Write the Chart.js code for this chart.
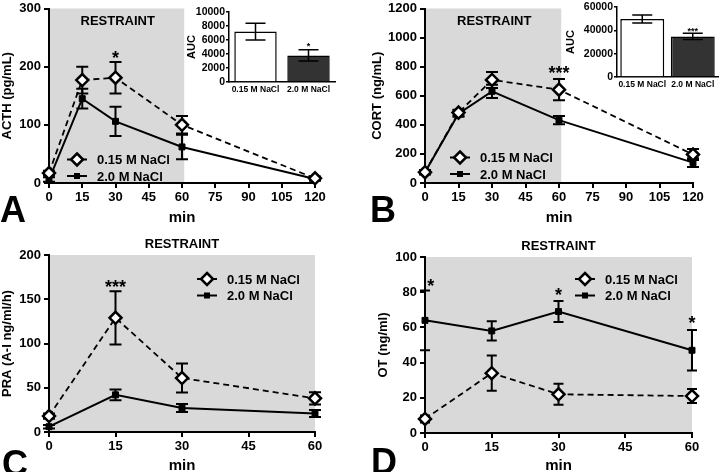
<!DOCTYPE html>
<html>
<head>
<meta charset="utf-8">
<title>Restraint hormones</title>
<script src="https://cdn.jsdelivr.net/npm/chart.js@4.4.1/dist/chart.umd.min.js"></script>
<style>
  body { margin: 0; background: #fff; }
  #fig { position: relative; width: 720px; height: 472px; overflow: hidden; background: #fff;
         font-family: 'Liberation Sans', Arial, Helvetica, sans-serif; }
  #fig canvas { position: absolute; }
  .letter { position: absolute; font-weight: bold; font-size: 36px; line-height: 1; color: #000; }
</style>
</head>
<body>
<div id="fig">
  <canvas id="chartA" width="360" height="236" style="left:0;top:0"></canvas>
  <canvas id="chartB" width="360" height="236" style="left:360px;top:0"></canvas>
  <canvas id="chartC" width="360" height="242" style="left:0;top:236px"></canvas>
  <canvas id="chartD" width="360" height="242" style="left:360px;top:236px"></canvas>
  <canvas id="insetA" width="165" height="100" style="left:180px;top:0"></canvas>
  <canvas id="insetB" width="180" height="95" style="left:540px;top:0"></canvas>
  <div class="letter" style="left:0;top:192px">A</div>
  <div class="letter" style="left:370px;top:192px">B</div>
  <div class="letter" style="left:2px;top:446px">C</div>
  <div class="letter" style="left:371px;top:444px">D</div>
</div>
<script>
// ---- data ----
const groups = ['0.15 M NaCl', '2.0 M NaCl'];
const timesAB = [0, 15, 30, 60, 120];
const timesCD = [0, 15, 30, 60];

// A: ACTH (pg/mL)
const acthLow = [17, 177, 181, 100, 8];
const acthLowErr = [4, 23, 27, 15, 3];
const acthHigh = [6, 145, 106, 62, 7];
const acthHighErr = [4, 17, 25, 21, 3];
const acthTicks = [0, 100, 200, 300];

// B: CORT (ng/mL)
const cortLow = [74, 484, 709, 642, 196];
const cortLowErr = [15, 20, 55, 73, 38];
const cortHigh = [74, 477, 630, 432, 140];
const cortHighErr = [12, 22, 45, 28, 30];
const cortTicks = [0, 200, 400, 600, 800, 1000, 1200];

// C: PRA (A-I ng/ml/h)
const praLow = [18, 129, 61, 38];
const praLowErr = [3, 30, 16.5, 7];
const praHigh = [6, 42, 27, 21];
const praHighErr = [2, 6, 4.5, 4];
const praTicks = [0, 50, 100, 150, 200];

// D: OT (ng/ml)
const otLow = [8, 34, 22, 21];
const otLowErr = [2, 10, 6, 4];
const otHigh = [64, 58, 69, 47];
const otHighErr = [17, 5.5, 6, 11.5];
const otTicks = [0, 20, 40, 60, 80, 100];

// insets: area under curve
const aucActh = [7200, 3800];
const aucActhErr = [1200, 800];
const aucActhTicks = [0, 2000, 4000, 6000, 8000, 10000];
const aucCort = [49700, 34800];
const aucCortErr = [3400, 2600];
const aucCortTicks = [0, 20000, 40000, 60000];

// significance marks (x in min, y in axis units)
const starsA = [{ x: 30, y: 222, t: '*' }];
const starsB = [{ x: 60, y: 786, t: '***' }];
const starsC = [{ x: 15, y: 168, t: '***' }];
const starsD = [{ x: 1.3, y: 86, t: '*' }, { x: 30, y: 80.5, t: '*' }, { x: 60, y: 64.5, t: '*' }];
const starsInsetA = [null, 5400];
const starsInsetB = [null, 40800];

// ---- drawing ----
const FONT = "'Liberation Sans', Arial, Helvetica, sans-serif";
const SHADE = '#d9d9d9';
Chart.defaults.font.family = FONT;
Chart.defaults.color = '#000';

const plain = v => String(v);   // no thousands separators

function drawMarker(ctx, kind, x, y) {
  ctx.save();
  ctx.setLineDash([]);
  if (kind === 'diamond') {
    const r = 6;
    ctx.beginPath();
    ctx.moveTo(x, y - r); ctx.lineTo(x + r, y); ctx.lineTo(x, y + r); ctx.lineTo(x - r, y);
    ctx.closePath();
    ctx.fillStyle = '#fff'; ctx.fill();
    ctx.lineWidth = 2.5; ctx.strokeStyle = '#000'; ctx.stroke();
  } else {
    ctx.fillStyle = '#000';
    ctx.fillRect(x - 3, y - 3, 6, 6);
  }
  ctx.restore();
}

function drawErr(ctx, x, yTop, yBot, cap) {
  ctx.beginPath();
  ctx.moveTo(x, yTop); ctx.lineTo(x, yBot);
  ctx.moveTo(x - cap, yTop); ctx.lineTo(x + cap, yTop);
  ctx.moveTo(x - cap, yBot); ctx.lineTo(x + cap, yBot);
  ctx.stroke();
}

function drawStar(ctx, text, x, yc, size) {
  ctx.save();
  ctx.font = 'bold ' + size + 'px ' + FONT;
  ctx.fillStyle = '#000';
  ctx.textAlign = 'center';
  ctx.textBaseline = 'alphabetic';
  ctx.fillText(text, x, yc + size * 0.55);
  ctx.restore();
}

function panelPlugin(p) {
  return {
    id: 'panel',
    beforeDraw(chart) {
      const { ctx, chartArea: a, scales: { x } } = chart;
      ctx.save();
      ctx.fillStyle = SHADE;
      ctx.fillRect(a.left, a.top, x.getPixelForValue(p.shadeTo) - a.left, a.bottom - a.top);
      ctx.restore();
    },
    beforeDatasetsDraw(chart) {
      const { ctx, scales: { x, y } } = chart;
      ctx.save();
      ctx.strokeStyle = '#000';
      ctx.lineWidth = 2;
      p.series.forEach(s => {
        s.vals.forEach((v, i) => {
          const px = x.getPixelForValue(p.times[i]);
          drawErr(ctx, px, y.getPixelForValue(v + s.errs[i]), y.getPixelForValue(v - s.errs[i]), p.cap);
        });
      });
      ctx.restore();
    },
    afterDraw(chart) {
      const { ctx, chartArea: a, scales: { x, y } } = chart;
      ctx.save();
      ctx.fillStyle = '#000';
      ctx.font = 'bold 13px ' + FONT;
      ctx.textAlign = 'center';
      ctx.textBaseline = 'middle';
      if (p.restraintInside) {
        ctx.fillText('RESTRAINT', x.getPixelForValue(p.shadeTo / 2 + 0.5), a.top + 13);
      } else {
        ctx.fillText('RESTRAINT', (a.left + a.right) / 2, a.top - 11);
      }
      p.stars.forEach(s => drawStar(ctx, s.t, x.getPixelForValue(s.x), y.getPixelForValue(s.y), 18));

      // legend
      const lx = a.left + p.legend[0], ly = a.top + p.legend[1];
      ['diamond', 'square'].forEach((kind, k) => {
        const yy = ly + k * 16.5;
        ctx.save();
        ctx.strokeStyle = '#000';
        ctx.lineWidth = 2;
        ctx.setLineDash(kind === 'diamond' ? [4, 4] : []);
        ctx.beginPath(); ctx.moveTo(lx, yy); ctx.lineTo(lx + 20, yy); ctx.stroke();
        ctx.restore();
        drawMarker(ctx, kind, lx + 10, yy);
        ctx.textAlign = 'left';
        ctx.font = 'bold 13px ' + FONT;
        ctx.fillText(groups[k], lx + 30, yy + 1);
      });
      ctx.restore();
    }
  };
}

function lineSet(label, times, vals, dashed) {
  return {
    label,
    data: times.map((t, i) => ({ x: t, y: vals[i] })),
    borderColor: '#000',
    borderWidth: dashed ? 1.8 : 2,
    borderDash: dashed ? [6, 4] : [],
    pointStyle: dashed ? 'rectRot' : 'rect',
    pointRadius: dashed ? 6 : 4.2,
    pointBackgroundColor: dashed ? '#fff' : '#000',
    pointBorderColor: '#000',
    pointBorderWidth: dashed ? 2.5 : 1,
    tension: 0,
    fill: false,
    clip: false
  };
}

function makeLinePanel(p) {
  const H = p.height;
  new Chart(document.getElementById(p.id), {
    type: 'line',
    data: {
      datasets: [
        lineSet(groups[0], p.times, p.series[0].vals, true),
        lineSet(groups[1], p.times, p.series[1].vals, false)
      ]
    },
    options: {
      responsive: false,
      animation: false,
      events: [],
      layout: { padding: { left: 0, top: p.area.t, right: p.width - p.area.r, bottom: 0 } },
      plugins: { legend: { display: false }, tooltip: { enabled: false } },
      scales: {
        x: {
          type: 'linear', min: 0, max: p.times[p.times.length - 1],
          afterBuildTicks: s => { s.ticks = p.xTicks.map(v => ({ value: v })); },
          ticks: { callback: plain, color: '#000', font: { size: 13, weight: 'bold' }, padding: 2, maxRotation: 0, autoSkip: false },
          grid: { display: true, drawOnChartArea: false, drawTicks: true, tickLength: 5, color: '#000', lineWidth: 2 },
          border: { display: true, color: '#000', width: 2 },
          title: { display: true, text: 'min', color: '#000', font: { size: 15, weight: 'bold' },
                   padding: { top: 0, bottom: p.minPad } },
          afterFit: s => { s.height = H - p.area.b; s.paddingLeft = 0; s.paddingRight = 0; }
        },
        y: {
          type: 'linear', min: 0, max: p.yTicks[p.yTicks.length - 1],
          afterBuildTicks: s => { s.ticks = p.yTicks.map(v => ({ value: v })); },
          ticks: { callback: plain, color: '#000', font: { size: 13, weight: 'bold' }, padding: 3, autoSkip: false },
          grid: { display: true, drawOnChartArea: false, drawTicks: true, tickLength: 5, color: '#000', lineWidth: 2 },
          border: { display: true, color: '#000', width: 2 },
          title: { display: true, text: p.yTitle, color: '#000', font: { size: 13, weight: 'bold' },
                   padding: { top: p.yTitlePad, bottom: 0 } },
          afterFit: s => { s.width = p.area.l; s.paddingTop = 0; s.paddingBottom = 0; }
        }
      }
    },
    plugins: [panelPlugin(p)]
  });
}

function makeInset(p) {
  new Chart(document.getElementById(p.id), {
    type: 'bar',
    data: {
      labels: groups,
      datasets: [{
        data: p.vals,
        backgroundColor: ['#ffffff', '#333333'],
        borderColor: '#000',
        borderWidth: 1.5,
        barPercentage: p.barPct,
        categoryPercentage: 1.0
      }]
    },
    options: {
      responsive: false,
      animation: false,
      events: [],
      layout: { padding: { left: 0, top: p.area.t, right: p.width - p.area.r, bottom: 0 } },
      plugins: { legend: { display: false }, tooltip: { enabled: false } },
      scales: {
        x: {
          ticks: { color: '#000', font: { size: 8.5, weight: 'bold' }, padding: 2.5, maxRotation: 0, autoSkip: false },
          grid: { display: true, drawOnChartArea: false, drawTicks: false, color: '#000' },
          border: { display: true, color: '#000', width: 1.5 },
          afterFit: s => { s.height = p.height - p.area.b; s.paddingLeft = 0; s.paddingRight = 0; }
        },
        y: {
          min: 0, max: p.yTicks[p.yTicks.length - 1],
          afterBuildTicks: s => { s.ticks = p.yTicks.map(v => ({ value: v })); },
          ticks: { callback: plain, color: '#000', font: { size: 10.5, weight: 'bold' }, padding: 1, autoSkip: false },
          grid: { display: true, drawOnChartArea: false, drawTicks: true, tickLength: 3, color: '#000', lineWidth: 1.5 },
          border: { display: true, color: '#000', width: 1.5 },
          title: { display: true, text: 'AUC', color: '#000', font: { size: 11, weight: 'bold' },
                   padding: { top: p.yTitlePad, bottom: 0 } },
          afterFit: s => { s.width = p.area.l; s.paddingTop = 0; s.paddingBottom = 0; }
        }
      }
    },
    plugins: [{
      id: 'insetErr',
      afterDatasetsDraw(chart) {
        const { ctx, scales: { y } } = chart;
        const bars = chart.getDatasetMeta(0).data;
        ctx.save();
        ctx.strokeStyle = '#000';
        ctx.lineWidth = 1.5;
        p.vals.forEach((v, i) => {
          drawErr(ctx, bars[i].x, y.getPixelForValue(v + p.errs[i]), y.getPixelForValue(v - p.errs[i]), 10);
          if (p.stars[i] != null) drawStar(ctx, p.starText, bars[i].x, y.getPixelForValue(p.stars[i]), 9);
        });
        ctx.restore();
      }
    }]
  });
}

makeLinePanel({
  id: 'chartA', width: 360, height: 236, area: { l: 49, t: 6, r: 315, b: 183 },
  times: timesAB, xTicks: [0, 15, 30, 45, 60, 75, 90, 105, 120], yTicks: acthTicks,
  series: [{ vals: acthLow, errs: acthLowErr }, { vals: acthHigh, errs: acthHighErr }],
  yTitle: 'ACTH (pg/mL)', yTitlePad: 0, minPad: 9, shadeTo: 61, restraintInside: true,
  stars: starsA, legend: [18, 151], cap: 6
});
makeLinePanel({
  id: 'chartB', width: 360, height: 236, area: { l: 65, t: 6, r: 333, b: 183 },
  times: timesAB, xTicks: [0, 15, 30, 45, 60, 75, 90, 105, 120], yTicks: cortTicks,
  series: [{ vals: cortLow, errs: cortLowErr }, { vals: cortHigh, errs: cortHighErr }],
  yTitle: 'CORT (ng/mL)', yTitlePad: 10, minPad: 9, shadeTo: 61, restraintInside: true,
  stars: starsB, legend: [25, 149], cap: 6
});
makeLinePanel({
  id: 'chartC', width: 360, height: 242, area: { l: 49, t: 19, r: 315, b: 196 },
  times: timesCD, xTicks: [0, 15, 30, 45, 60], yTicks: praTicks,
  series: [{ vals: praLow, errs: praLowErr }, { vals: praHigh, errs: praHighErr }],
  yTitle: 'PRA (A-I ng/ml/h)', yTitlePad: 0, minPad: 3, shadeTo: 60, restraintInside: false,
  stars: starsC, legend: [148, 24], cap: 6
});
makeLinePanel({
  id: 'chartD', width: 360, height: 242, area: { l: 65, t: 21, r: 332, b: 197 },
  times: timesCD, xTicks: [0, 15, 30, 45, 60], yTicks: otTicks,
  series: [{ vals: otLow, errs: otLowErr }, { vals: otHigh, errs: otHighErr }],
  yTitle: 'OT (ng/ml)', yTitlePad: 16, minPad: 3, shadeTo: 60, restraintInside: false,
  stars: starsD, legend: [150, 22], cap: 5
});

makeInset({
  id: 'insetA', width: 165, height: 100, area: { l: 49, t: 12, r: 155, b: 82 },
  vals: aucActh, errs: aucActhErr, yTicks: aucActhTicks, yTitlePad: 5, barPct: 0.8,
  stars: starsInsetA, starText: '*'
});
makeInset({
  id: 'insetB', width: 180, height: 95, area: { l: 77, t: 7, r: 178, b: 77 },
  vals: aucCort, errs: aucCortErr, yTicks: aucCortTicks, yTitlePad: 24, barPct: 0.87,
  stars: starsInsetB, starText: '***'
});
</script>
</body>
</html>
